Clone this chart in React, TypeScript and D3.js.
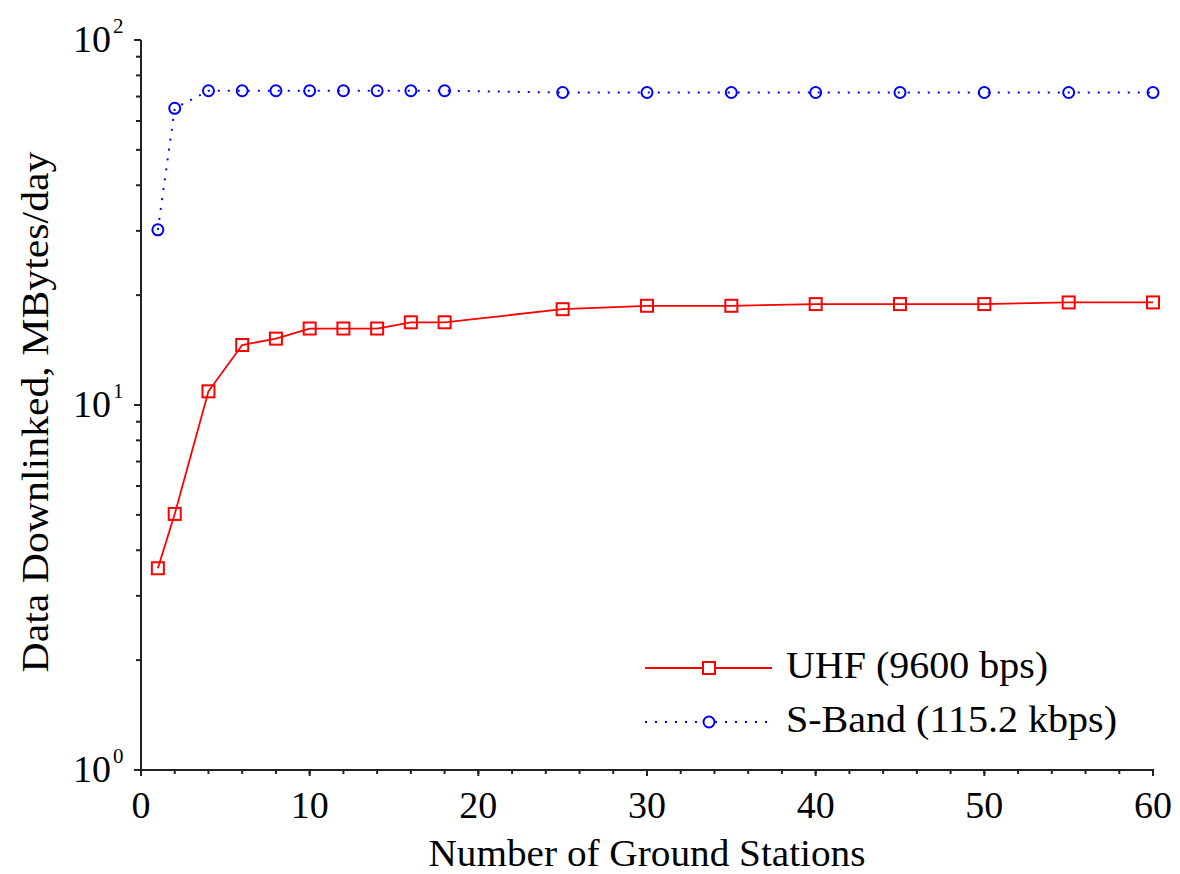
import React from "react";
import * as d3 from "d3";

const stations = [1, 2, 4, 6, 8, 10, 12, 14, 16, 18, 25, 30, 35, 40, 45, 50, 55, 60];
const uhfValues = [3.57, 5.03, 10.9, 14.6, 15.2, 16.2, 16.2, 16.2, 16.85, 16.85, 18.3, 18.7, 18.7, 18.9, 18.9, 18.9, 19.1, 19.1];
const sbandValues = [30.2, 65.0, 72.6, 72.6, 72.6, 72.6, 72.6, 72.6, 72.6, 72.6, 71.8, 71.8, 71.8, 71.8, 71.8, 71.8, 71.8, 71.8];
const xMajorTicks = [0, 10, 20, 30, 40, 50, 60];
const xMinorTicks = d3.range(0, 61, 2);
const yDecades = [0, 1, 2];
const seriesNames = ["UHF (9600 bps)", "S-Band (115.2 kbps)"];
const xTitle = "Number of Ground Stations";
const yTitle = "Data Downlinked, MBytes/day";

const W = 1180;
const H = 874;
const L = 141, R = 1153, T = 40, B = 770;
const FONT = "'Liberation Serif', 'Times New Roman', serif";

export default function App() {
  const x = d3.scaleLinear().domain([0, 60]).range([L, R]);
  const y = d3.scaleLog().domain([1, 100]).range([B, T]);

  const yMinor: number[] = [];
  [1, 10].forEach((base) => {
    for (let k = 2; k <= 9; k++) yMinor.push(base * k);
  });

  const uhfPts = stations.map((s, i) => [x(s), y(uhfValues[i])] as [number, number]);
  const sPts = stations.map((s, i) => [x(s), y(sbandValues[i])] as [number, number]);
  const line = d3.line();

  const red = "#ff0000";
  const blue = "#0000ff";
  const axisColor = "#222";

  const legY1 = 668;
  const legY2 = 722;
  const legX0 = 645, legX1 = 772, legM = 709, legT = 786;

  return (
    <svg width={W} height={H} style={{ position: "absolute", left: 0, top: 0, background: "#fff" }} fontFamily={FONT}>
      <rect x={0} y={0} width={W} height={H} fill="#fff" />
      {/* axes */}
      <line x1={L} y1={T} x2={L} y2={B + 1} stroke={axisColor} strokeWidth={2} />
      <line x1={L - 1} y1={B} x2={R + 1} y2={B} stroke={axisColor} strokeWidth={2} />
      {yMinor.map((v) => (
        <line key={"ym" + v} x1={L - 5} x2={L} y1={y(v)} y2={y(v)} stroke={axisColor} strokeWidth={2} />
      ))}
      {yDecades.map((d) => (
        <line key={"yM" + d} x1={L - 7} x2={L} y1={y(Math.pow(10, d))} y2={y(Math.pow(10, d))} stroke={axisColor} strokeWidth={2} />
      ))}
      {yDecades.map((d) => (
        <g key={"yl" + d}>
          <text x={111} y={y(Math.pow(10, d)) + 12} fontSize={38} textAnchor="end" fill="#000">10</text>
          <text x={113} y={y(Math.pow(10, d)) - 7} fontSize={21} textAnchor="start" fill="#000">{d}</text>
        </g>
      ))}
      {xMinorTicks.map((v) => (
        <line key={"xm" + v} x1={x(v)} x2={x(v)} y1={B} y2={B + 4} stroke={axisColor} strokeWidth={2} />
      ))}
      {xMajorTicks.map((v) => (
        <g key={"xM" + v}>
          <line x1={x(v)} x2={x(v)} y1={B} y2={B + 6} stroke={axisColor} strokeWidth={2} />
          <text x={x(v)} y={818} fontSize={38} textAnchor="middle" fill="#000">{v}</text>
        </g>
      ))}
      <text x={(L + R) / 2} y={866} fontSize={38} textAnchor="middle" fill="#000" textLength={437} lengthAdjust="spacingAndGlyphs">{xTitle}</text>
      <text transform={`translate(48, ${(T + B) / 2 + 7}) rotate(-90)`} fontSize={38} textAnchor="middle" fill="#000" textLength={521} lengthAdjust="spacingAndGlyphs">{yTitle}</text>

      {/* series */}
      <path d={line(uhfPts) || ""} fill="none" stroke={red} strokeWidth={1.8} />
      {uhfPts.map((p, i) => (
        <rect key={"u" + i} x={p[0] - 6} y={p[1] - 6} width={12} height={12} fill="none" stroke={red} strokeWidth={2} />
      ))}
      <path d={line(sPts) || ""} fill="none" stroke={blue} strokeWidth={2} strokeDasharray="2 8" />
      {sPts.map((p, i) => (
        <circle key={"s" + i} cx={p[0]} cy={p[1]} r={5.5} fill="none" stroke={blue} strokeWidth={2} />
      ))}

      {/* legend */}
      <line x1={legX0} x2={legX1} y1={legY1} y2={legY1} stroke={red} strokeWidth={1.8} />
      <rect x={legM - 6} y={legY1 - 6} width={12} height={12} fill="#fff" stroke={red} strokeWidth={2} />
      <text x={legT} y={legY1 + 10} fontSize={38} fill="#000" textLength={262} lengthAdjust="spacingAndGlyphs">{seriesNames[0]}</text>
      <line x1={legX0} x2={legX1} y1={legY2} y2={legY2} stroke={blue} strokeWidth={2} strokeDasharray="2 8" />
      <circle cx={legM} cy={legY2} r={5.5} fill="#fff" stroke={blue} strokeWidth={2} />
      <text x={legT} y={legY2 + 10} fontSize={38} fill="#000" textLength={331} lengthAdjust="spacingAndGlyphs">{seriesNames[1]}</text>
    </svg>
  );
}
